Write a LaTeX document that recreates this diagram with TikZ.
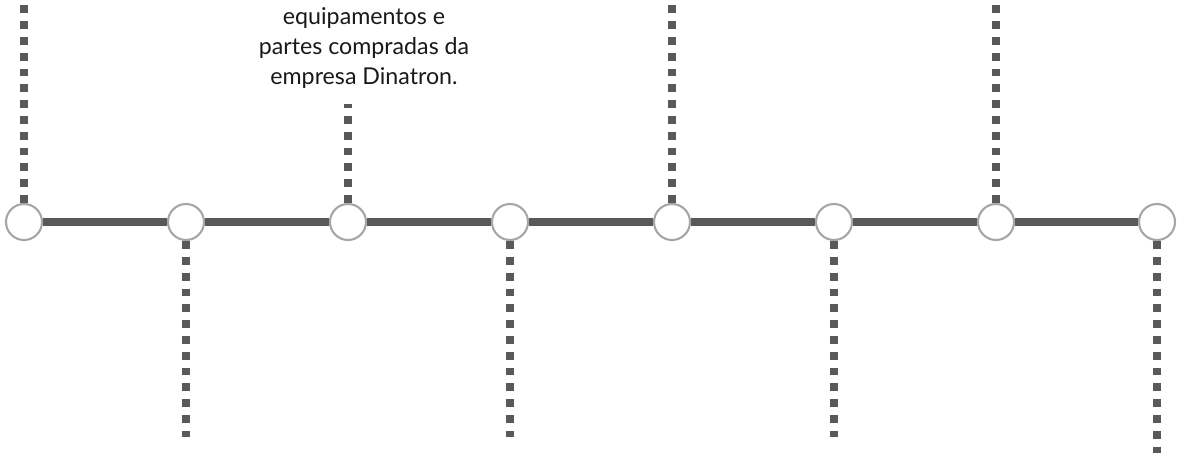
\documentclass[tikz,border=0pt]{standalone}
\usepackage{fontspec}
\setmainfont{Lato}
\definecolor{spinegray}{HTML}{595959}
\definecolor{ringgray}{HTML}{A6A6A6}
\begin{document}
\begin{tikzpicture}
    [inner sep=0pt,minimum size=7.2mm,
     stop/.style={circle,draw=ringgray,line width=1.2pt,fill=white},
     spine/.style={draw=spinegray,line width=4pt},
     drop/.style={draw=spinegray,line width=4.5pt,dash pattern=on 4.5pt off 4.5pt}]

    \useasboundingbox (0,0) rectangle (23.56,9.06);

    % timeline stops:
    \node (c1) at (0.48, 4.62) [stop] {};
    \node (c2) at (3.72, 4.62) [stop] {};
    \node (c3) at (6.96, 4.62) [stop] {};
    \node (c4) at (10.2, 4.62) [stop] {};
    \node (c5) at (13.44, 4.62) [stop] {};
    \node (c6) at (16.68, 4.62) [stop] {};
    \node (c7) at (19.92, 4.62) [stop] {};
    \node (c8) at (23.14, 4.62) [stop] {};

    % ends of the dotted leaders:
    \coordinate (t1) at (0.48, 9.06);
    \coordinate (t3) at (6.96, 6.98);
    \coordinate (t5) at (13.44, 9.06);
    \coordinate (t7) at (19.92, 9.06);
    \coordinate (b2) at (3.72, 0.32);
    \coordinate (b4) at (10.2, 0.32);
    \coordinate (b6) at (16.68, 0.32);
    \coordinate (b8) at (23.14, 0);

    % note:
    \node (note) at (7.28, 8.1) [align=center,font=\fontsize{13.2}{17}\selectfont,
      text=black!90] {equipamentos e\\partes compradas da\\empresa Dinatron.};

    % connect stops:
    \draw [spine] (c1) to (c2);
    \draw [spine] (c2) to (c3);
    \draw [spine] (c3) to (c4);
    \draw [spine] (c4) to (c5);
    \draw [spine] (c5) to (c6);
    \draw [spine] (c6) to (c7);
    \draw [spine] (c7) to (c8);

    % leaders:
    \draw [drop] (c1.north) to (t1);
    \draw [drop] (c3.north) to (t3);
    \draw [drop] (c5.north) to (t5);
    \draw [drop] (c7.north) to (t7);
    \draw [drop] (c2.south) to (b2);
    \draw [drop] (c4.south) to (b4);
    \draw [drop] (c6.south) to (b6);
    \draw [drop] (c8.south) to (b8);

  \end{tikzpicture}
\end{document}
